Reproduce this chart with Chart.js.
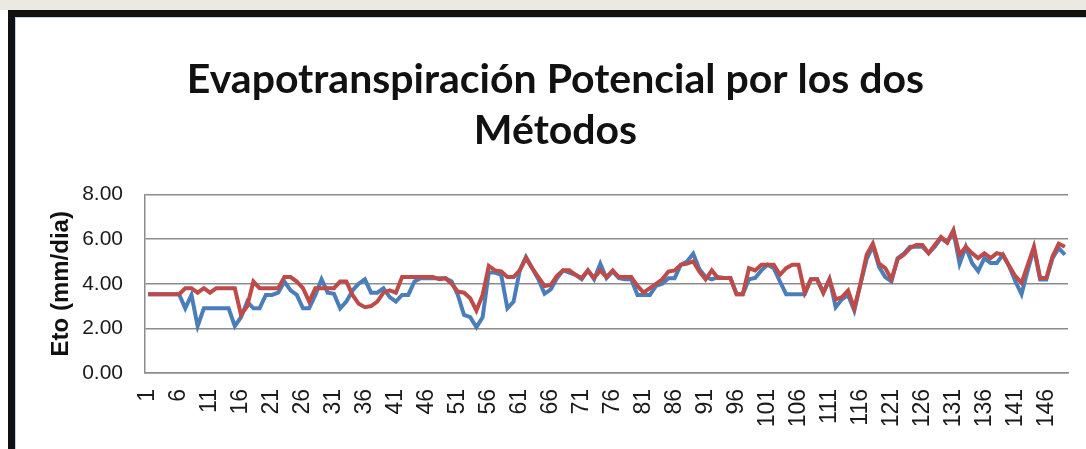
<!DOCTYPE html>
<html>
<head>
<meta charset="utf-8">
<script src="https://cdn.jsdelivr.net/npm/chart.js@4.4.0/dist/chart.umd.min.js"></script>
<style>
  body { margin: 0; background: #fff; }
  #wrap { position: relative; width: 1086px; height: 449px; overflow: hidden; background: #fff; }
  #strip { position: absolute; left: 0; top: 0; width: 1086px; height: 10px; background: #ece8e2; }
  #frame { position: absolute; left: 8px; top: 10px; width: 1078px; height: 439px; box-sizing: border-box;
           border-top: 7px solid #111; border-left: 7px solid #111; }
  #frame::after { content: ''; position: absolute; left: 0; top: 0; right: 0; bottom: 0;
           border-top: 1px solid #bcd3ea; border-left: 1px solid #bcd3ea; }
  canvas { position: absolute; left: 0; top: 0; }
</style>
</head>
<body>
<div id="wrap">
  <div id="strip"></div>
  <div id="frame"></div>
  <canvas id="etoChart" width="1086" height="449"></canvas>
</div>
<script>
// Datos (dia 1..149)
const dias = [];
for (let i = 1; i <= 149; i++) dias.push(String(i));

const metodo1 = [
  3.53, 3.53, 3.53, 3.53, 3.53, 3.53, 2.9, 3.5, 2.1, 2.9,
  2.9, 2.9, 2.9, 2.9, 2.1, 2.5, 3.2, 2.9, 2.9, 3.5,
  3.5, 3.6, 4.1, 3.7, 3.5, 2.9, 2.9, 3.5, 4.2, 3.6,
  3.55, 2.9, 3.2, 3.7, 4.0, 4.2, 3.6, 3.6, 3.8, 3.4,
  3.2, 3.5, 3.5, 4.1, 4.25, 4.25, 4.25, 4.25, 4.25, 4.1,
  3.5, 2.6, 2.5, 2.05, 2.5, 4.5, 4.5, 4.4, 2.9, 3.2,
  4.6, 5.2, 4.7, 4.2, 3.55, 3.75, 4.25, 4.6, 4.5, 4.4,
  4.2, 4.6, 4.2, 4.9, 4.25, 4.55, 4.25, 4.2, 4.2, 3.5,
  3.5, 3.5, 3.9, 4.0, 4.25, 4.25, 4.85, 5.0, 5.35, 4.65,
  4.3, 4.2, 4.3, 4.26, 4.26, 3.53, 3.53, 4.2, 4.26, 4.6,
  4.85, 4.7, 4.1, 3.53, 3.53, 3.53, 3.53, 4.2, 4.2, 3.6,
  4.2, 2.95, 3.3, 3.5, 2.8, 4.0, 5.1, 5.7, 4.75, 4.3,
  4.1, 5.15, 5.35, 5.66, 5.66, 5.66, 5.37, 5.66, 6.05, 5.85,
  6.35, 4.9, 5.66, 4.93, 4.56, 5.15, 4.93, 4.93, 5.3, 4.78,
  4.11, 3.53, 4.6, 5.59, 4.19, 4.19, 5.15, 5.6, 5.3
];

const metodo2 = [
  3.53, 3.53, 3.53, 3.53, 3.53, 3.53, 3.8, 3.8, 3.6, 3.8,
  3.6, 3.8, 3.8, 3.8, 3.8, 2.6, 3.0, 4.1, 3.8, 3.8,
  3.8, 3.8, 4.3, 4.3, 4.1, 3.8, 3.2, 3.8, 3.8, 3.8,
  3.8, 4.1, 4.1, 3.5, 3.1, 2.95, 3.0, 3.2, 3.6, 3.7,
  3.6, 4.3, 4.3, 4.3, 4.3, 4.3, 4.3, 4.2, 4.25, 4.0,
  3.65, 3.6, 3.35, 2.8, 3.5, 4.8, 4.6, 4.55, 4.3, 4.3,
  4.6, 5.15, 4.7, 4.3, 3.9, 3.95, 4.35, 4.6, 4.6, 4.4,
  4.26, 4.6, 4.26, 4.6, 4.3, 4.6, 4.3, 4.3, 4.3, 3.9,
  3.6, 3.8, 4.0, 4.2, 4.55, 4.6, 4.85, 4.9, 5.0, 4.55,
  4.2, 4.6, 4.26, 4.26, 4.26, 3.53, 3.53, 4.7, 4.6, 4.85,
  4.85, 4.85, 4.4, 4.7, 4.85, 4.85, 3.6, 4.2, 4.2, 3.6,
  4.2, 3.3, 3.4, 3.7, 2.9, 4.0, 5.3, 5.8, 4.9, 4.7,
  4.2, 5.1, 5.3, 5.6, 5.74, 5.74, 5.37, 5.74, 6.1, 5.85,
  6.4, 5.3, 5.66, 5.37, 5.15, 5.37, 5.15, 5.37, 5.3, 4.8,
  4.34, 4.04, 4.85, 5.66, 4.26, 4.26, 5.22, 5.8, 5.66
];

const ticksY = [0, 2, 4, 6, 8];

document.addEventListener('DOMContentLoaded', function() {
    const ctx = document.getElementById('etoChart').getContext('2d');
    new Chart(ctx, {
        type: 'line',
        data: {
            labels: dias,
            datasets: [{
                label: 'Método 1',
                data: metodo1,
                borderColor: '#4a7ebb',
                borderWidth: 4,
                pointRadius: 0,
                tension: 0,
                order: 2
            }, {
                label: 'Método 2',
                data: metodo2,
                borderColor: '#be4b48',
                borderWidth: 4,
                pointRadius: 0,
                tension: 0,
                order: 1
            }]
        },
        options: {
            responsive: false,
            devicePixelRatio: 1,
            animation: false,
            layout: { padding: { left: 43, right: 18, top: 0, bottom: 0 } },
            plugins: {
                legend: { display: false },
                tooltip: { enabled: false },
                title: {
                    display: true,
                    text: ['Evapotranspiración Potencial por los dos', 'Métodos'],
                    color: '#111',
                    font: { family: 'Lato, "Liberation Sans", sans-serif', size: 41, weight: 'bold', lineHeight: 1.25 },
                    padding: { top: 54, bottom: 38 }
                }
            },
            scales: {
                x: {
                    offset: true,
                    grid: { display: false, drawTicks: false },
                    border: { display: true, color: '#8c8c8c', width: 1.5 },
                    afterFit: function(scale) {
                        scale.height = 76;
                        scale.paddingLeft = 0;
                        scale.paddingRight = 0;
                    },
                    ticks: {
                        autoSkip: false,
                        minRotation: 90,
                        maxRotation: 90,
                        padding: 16,
                        color: '#1a1a1a',
                        font: { family: '"Liberation Sans", sans-serif', size: 23 },
                        callback: function(val, index) {
                            return index % 5 === 0 ? this.getLabelForValue(val) : '';
                        }
                    }
                },
                y: {
                    min: 0,
                    max: 8,
                    afterFit: function(scale) { scale.width = 102; },
                    afterBuildTicks: function(scale) {
                        scale.ticks = ticksY.map(v => ({ value: v }));
                    },
                    grid: { color: '#8c8c8c', lineWidth: 1.5, drawTicks: false },
                    border: { display: true, color: '#8c8c8c', width: 1.5 },
                    ticks: {
                        padding: 22,
                        color: '#1a1a1a',
                        font: { family: '"Liberation Sans", sans-serif', size: 21 },
                        callback: function(v) { return Number(v).toFixed(2); }
                    },
                    title: {
                        display: true,
                        text: 'Eto (mm/dia)',
                        color: '#111',
                        font: { family: '"Liberation Sans", sans-serif', size: 24, weight: 'bold' },
                        padding: { top: 4, bottom: 0 }
                    }
                }
            }
        }
    });
});
</script>
</body>
</html>
